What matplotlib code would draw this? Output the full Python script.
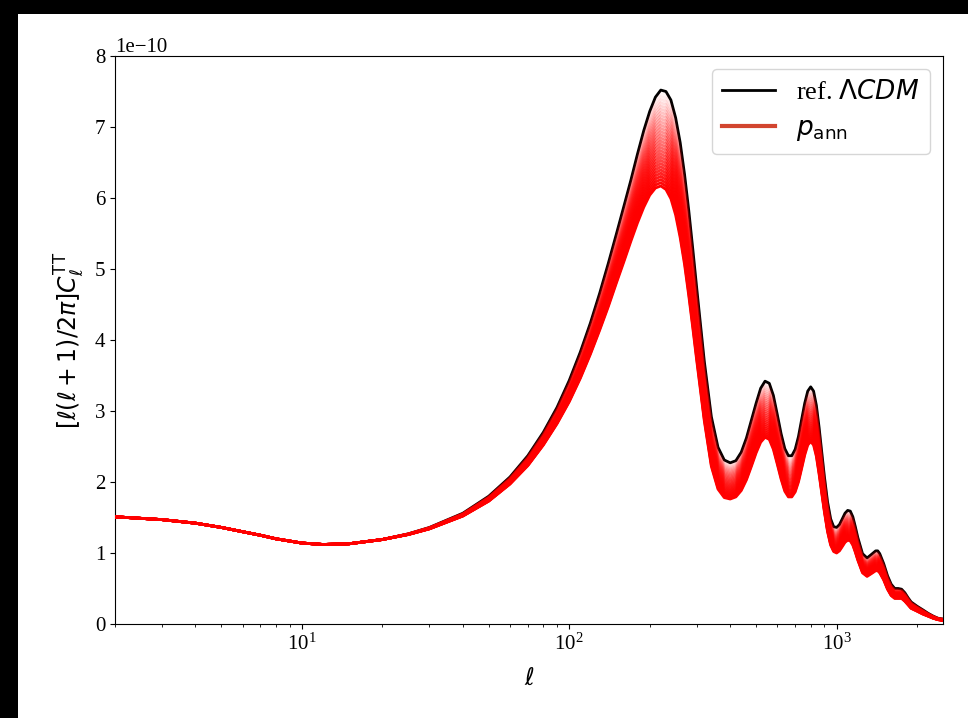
import numpy as np
import matplotlib
matplotlib.use("Agg")
import matplotlib.pyplot as plt
from matplotlib.patches import Rectangle

plt.rcParams["font.family"] = ["Liberation Serif", "DejaVu Serif"]
plt.rcParams["mathtext.fontset"] = "dejavusans"
plt.rcParams["font.size"] = 15

# multipoles
ell = [2, 3, 4, 5, 6, 7, 8, 10, 12, 15, 20, 25, 30, 40, 50, 60, 70, 80, 90,
       100, 110, 120, 130, 140, 150, 160, 170, 180, 190, 200, 210, 220, 230,
       240, 250, 260, 270, 280, 290, 300, 320, 340, 360, 380, 400, 420, 440,
       460, 480, 500, 520, 540, 560, 580, 600, 620, 640, 660, 680, 700, 720,
       740, 760, 780, 800, 820, 840, 860, 880, 900, 925, 950, 975, 1000, 1025,
       1050, 1075, 1100, 1125, 1150, 1175, 1200, 1250, 1300, 1350, 1400, 1425,
       1450, 1500, 1550, 1600, 1650, 1700, 1750, 1800, 1850, 1900, 2000, 2100,
       2200, 2300, 2400, 2500]

# reference LCDM TT spectrum, units of 1e-10
dl_ref = [1.51, 1.47, 1.42, 1.36, 1.30, 1.25, 1.20, 1.14, 1.12, 1.13, 1.19,
          1.27, 1.36, 1.56, 1.80, 2.07, 2.37, 2.70, 3.05, 3.43, 3.83, 4.24,
          4.66, 5.08, 5.49, 5.88, 6.25, 6.62, 6.95, 7.22, 7.42, 7.52, 7.50,
          7.38, 7.13, 6.78, 6.33, 5.82, 5.27, 4.72, 3.70, 2.92, 2.49, 2.31,
          2.27, 2.30, 2.42, 2.62, 2.87, 3.11, 3.32, 3.42, 3.39, 3.22, 2.95,
          2.68, 2.47, 2.37, 2.37, 2.46, 2.64, 2.88, 3.11, 3.28, 3.34, 3.28,
          3.08, 2.77, 2.42, 2.08, 1.72, 1.48, 1.37, 1.36, 1.40, 1.48, 1.56,
          1.60, 1.59, 1.51, 1.37, 1.22, 0.99, 0.93, 0.98, 1.03, 1.03, 0.99,
          0.85, 0.68, 0.56, 0.50, 0.50, 0.49, 0.44, 0.37, 0.31, 0.25, 0.20,
          0.15, 0.11, 0.08, 0.07]

# spectrum for the largest annihilation parameter, units of 1e-10
dl_pmax = [1.51, 1.47, 1.42, 1.36, 1.30, 1.25, 1.20, 1.14, 1.12, 1.13, 1.19,
           1.26, 1.34, 1.52, 1.73, 1.97, 2.23, 2.52, 2.82, 3.13, 3.46, 3.80,
           4.14, 4.47, 4.80, 5.10, 5.39, 5.65, 5.87, 6.04, 6.14, 6.17, 6.12,
           5.99, 5.76, 5.44, 5.06, 4.62, 4.16, 3.70, 2.86, 2.22, 1.90, 1.78,
           1.76, 1.79, 1.88, 2.03, 2.22, 2.41, 2.56, 2.63, 2.60, 2.46, 2.25,
           2.04, 1.87, 1.79, 1.79, 1.86, 2.00, 2.19, 2.38, 2.52, 2.57, 2.52,
           2.36, 2.11, 1.84, 1.58, 1.30, 1.11, 1.02, 1.00, 1.03, 1.09, 1.15,
           1.18, 1.17, 1.11, 1.01, 0.90, 0.72, 0.67, 0.71, 0.75, 0.75, 0.72,
           0.62, 0.49, 0.40, 0.36, 0.36, 0.36, 0.32, 0.27, 0.22, 0.18, 0.14,
           0.11, 0.08, 0.06, 0.05]

# annihilation parameter values, relative to the largest one
p_ann = [(i + 1) / 30 for i in range(30)]

ell_a = np.array(ell, dtype=float)
ref_a = np.array(dl_ref) * 1e-10
pmax_a = np.array(dl_pmax) * 1e-10

fig = plt.figure(figsize=(9.68, 7.18), dpi=100)
fig.patch.set_facecolor("black")
fig.patches.append(Rectangle((18 / 968, 0), 1, 1 - 14 / 718, transform=fig.transFigure,
                             facecolor="white", edgecolor="none", zorder=-10))
ax = fig.add_axes([115 / 968, 1 - 624 / 718, (943 - 115) / 968, (624 - 56) / 718])

ax.plot(ell_a, ref_a, color="black", lw=2, zorder=2)
for p in p_ann:
    curve = ref_a + p * (pmax_a - ref_a)
    ax.plot(ell_a, curve, color="red", alpha=p, lw=2, zorder=3)

ax.plot([], [], color="black", lw=2, label=r"ref. $\Lambda CDM$")
ax.plot([], [], color="#d2452f", lw=3, label=r"$p_{\rm ann}$")

ax.set_xscale("log")
ax.set_xlim(2, 2500)
ax.set_ylim(0, 8e-10)
ax.set_xlabel(r"$\ell$", fontsize=17, labelpad=10)
ax.set_ylabel(r"$[\ell(\ell+1)/2\pi]C_\ell^{\rm TT}$", fontsize=17, labelpad=6)
ax.legend(loc="upper right", fontsize=19)

fig.savefig("out.png", dpi=100, facecolor=fig.get_facecolor())
